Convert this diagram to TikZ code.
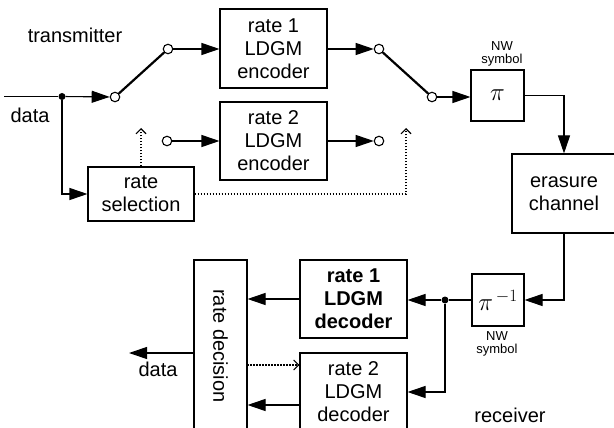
\documentclass[tikz,border=0pt]{standalone}
\usepackage{fontspec}
\setmainfont{Liberation Sans}
\usetikzlibrary{arrows.meta,calc}
\begin{document}
\begin{tikzpicture}[x=1pt,y=-1pt,
  box/.style={draw,line width=1.1pt,inner sep=0pt,align=center,font=\fontsize{20}{23}\selectfont},
  lbl/.style={inner sep=0pt,align=center,font=\fontsize{20}{23}\selectfont},
  small/.style={inner sep=0pt,align=center,font=\fontsize{13}{13}\selectfont},
  sw/.style={draw,circle,line width=1.1pt,inner sep=0pt,minimum size=9.5pt,fill=white},
  dot/.style={circle,fill,inner sep=0pt,minimum size=7pt},
  conn/.style={line width=1.1pt},
  arr/.style={line width=1.1pt,-{Triangle[length=18pt,width=12pt]}},
  darr/.style={line width=1.1pt,dash pattern=on 1.5pt off 1.5pt,-{Straight Barb[length=5pt,width=10pt]}},
  swl/.style={line width=2.2pt}]
\clip (0,0) rectangle (614,428);
\useasboundingbox (0,0) rectangle (614,428);
\fill[white] (0,0) rectangle (614,428);
% boxes
\node[box,minimum width=107pt,minimum height=79pt] (enc1) at (273.5,48.5) {rate 1\\LDGM\\encoder};
\node[box,minimum width=107pt,minimum height=78pt] (enc2) at (273.5,141) {rate 2\\LDGM\\encoder};
\node[box,minimum width=106pt,minimum height=54pt] (rsel) at (141,194) {rate\\selection};
\node[box,minimum width=53pt,minimum height=51pt,font=\fontsize{26}{26}\selectfont] (pi) at (497.5,95.5) {$\pi$};
\node[box,minimum width=104pt,minimum height=79pt] (eras) at (564,193.5) {erasure\\channel};
\node[box,minimum width=52pt,minimum height=52pt,font=\fontsize{24}{24}\selectfont] (pinv) at (498,300) {$\pi^{\,-1}$};
\node[box,minimum width=107pt,minimum height=78pt,font=\fontsize{20}{23}\selectfont\bfseries] (dec1) at (353.5,299) {rate 1\\LDGM\\decoder};
\node[box,minimum width=107pt,minimum height=78pt] (dec2) at (353.5,392) {rate 2\\LDGM\\decoder};
\node[box,minimum width=53pt,minimum height=180pt] (rdec) at (220.5,350) {};
\node[lbl,rotate=-90] (rdect) at (220.5,346) {rate decision};
% labels
\node[lbl] (ltx) at (75,35) {transmitter};
\node[lbl] (ldin) at (30,115) {data};
\node[lbl] (ldout) at (158,369) {data};
\node[lbl] (lrx) at (510,415) {receiver};
\node[small] (nw1) at (502,53.5) {NW\\symbol};
\node[small] (nw2) at (497,344) {NW\\symbol};
% switch points
\coordinate (din) at (4,96.5);
\node[dot] (j1) at (62,96.5) {};
\node[sw] (c1) at (115,97) {};
\node[sw] (c2) at (168,49) {};
\node[sw] (c3) at (167,141) {};
\node[sw] (c4) at (379,49) {};
\node[sw] (c5) at (379,141) {};
\node[sw] (c6) at (432,97) {};
\node[dot] (j2) at (445,300) {};
% connectors
\draw[conn] (din) -- (j1);
\draw[arr] (j1) -- (c1);
\draw[swl] (c1) -- (c2);
\draw[arr] (c2) -- (enc1.west|-c2);
\draw[arr] (c3) -- (enc2.west|-c3);
\draw[arr] (enc1.east|-c4) -- (c4);
\draw[arr] (enc2.east|-c5) -- (c5);
\draw[swl] (c4) -- (c6);
\draw[arr] (c6) -- (pi.west|-c6);
\draw[arr] (pi.east) -| (eras.north);
\draw[arr] (eras.south) |- (pinv.east);
\draw[conn] (pinv.west) -- (j2);
\draw[arr] (j2) -- (dec1.east|-j2);
\draw[arr] (j2) |- (dec2.east);
\draw[arr] (j1) |- (rsel.west);
\coordinate (rsu) at (141,128);
\draw[darr] (rsel.north) -- (rsu);
\coordinate (swu) at (406,128);
\draw[darr] (rsel.east) -| (swu);
\draw[arr] (dec1.west) -- (rdec.east|-dec1.west);
\coordinate (d2a) at (300,405);
\draw[arr] (d2a) -- (rdec.east|-d2a);
\coordinate (rdd) at (247,365);
\draw[darr] (rdd) -- (dec2.west|-rdd);
\coordinate (dout) at (129,353);
\draw[arr] (rdec.west|-dout) -- (dout);
\end{tikzpicture}
\end{document}
